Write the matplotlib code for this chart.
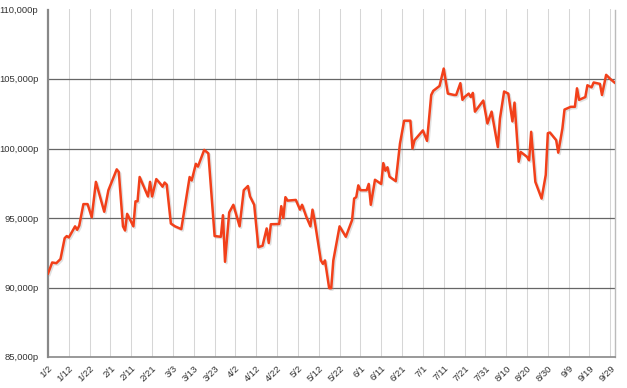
import pandas as pd
import matplotlib
matplotlib.use("Agg")
import matplotlib.pyplot as plt
import matplotlib.patheffects as pe

# price series (month-day, value)
dates = [
    "01-02", "01-04", "01-06", "01-08", "01-10", "01-11", "01-12", "01-15", "01-16", "01-17",
    "01-19", "01-21", "01-23", "01-25", "01-29", "01-31", "02-02", "02-04", "02-05", "02-07",
    "02-08", "02-09", "02-12", "02-13", "02-14", "02-15", "02-18", "02-19", "02-20", "02-21",
    "02-23", "02-25", "02-26", "02-27", "02-28", "03-02", "03-04", "03-07", "03-11", "03-12",
    "03-14", "03-15", "03-16", "03-18", "03-20", "03-23", "03-26", "03-27", "03-28", "03-30",
    "04-01", "04-04", "04-06", "04-08", "04-09", "04-11", "04-13", "04-15", "04-17", "04-18",
    "04-19", "04-22", "04-23", "04-24", "04-25", "04-26", "04-27", "05-01", "05-03", "05-04",
    "05-06", "05-08", "05-09", "05-10", "05-13", "05-14", "05-15", "05-17", "05-18", "05-19",
    "05-22", "05-25", "05-28", "05-29", "05-30", "05-31", "06-01", "06-04", "06-05", "06-06",
    "06-08", "06-11", "06-12", "06-13", "06-14", "06-15", "06-18", "06-20", "06-22", "06-25",
    "06-26", "06-27", "07-01", "07-03", "07-05", "07-06", "07-09", "07-11", "07-13", "07-16",
    "07-17", "07-19", "07-20", "07-21", "07-23", "07-24", "07-25", "07-26", "07-30", "08-01",
    "08-03", "08-06", "08-07", "08-09", "08-11", "08-13", "08-14", "08-16", "08-17", "08-20",
    "08-21", "08-22", "08-24", "08-27", "08-29", "08-30", "08-31", "09-03", "09-04", "09-06",
    "09-07", "09-10", "09-12", "09-13", "09-14", "09-17", "09-18", "09-20", "09-21", "09-24",
    "09-25", "09-27", "09-29", "10-01",
]
values = [
    91000, 91800, 91750, 92050, 93550, 93700, 93600, 94400, 94150, 94450,
    96000, 96000, 95050, 97600, 95450, 97000, 97750, 98500, 98300, 94400,
    94100, 95300, 94400, 96200, 96200, 97950, 96900, 96550, 97600, 96550,
    97800, 97450, 97250, 97550, 97400, 94600, 94400, 94200, 97950, 97700,
    98900, 98700, 99100, 99900, 99650, 93700, 93650, 95200, 91850, 95400,
    95950, 94400, 97000, 97300, 96550, 95950, 92900, 93000, 94250, 93200,
    94550, 94570, 94570, 95850, 95000, 96500, 96250, 96300, 95600, 95950,
    95100, 94400, 95600, 94850, 91950, 91700, 91950, 89950, 89950, 91950,
    94400, 93650, 94850, 96400, 96500, 97350, 97000, 97000, 97450, 95950,
    97750, 97450, 98950, 98400, 98650, 97970, 97650, 100350, 102000, 102000,
    100000, 100600, 101300, 100550, 103850, 104150, 104500, 105750, 103950, 103850,
    103850, 104700, 103500, 103700, 103950, 103700, 104000, 102650, 103450, 101800,
    102650, 100100, 102150, 104100, 103950, 101950, 103300, 99050, 99750, 99400,
    99150, 101200, 97600, 96400, 98100, 101100, 101150, 100600, 99700, 101450,
    102800, 103000, 103000, 104330, 103500, 103700, 104550, 104400, 104750, 104650,
    103850, 105300, 105000, 104750,
]
y_ticks = [85000, 90000, 95000, 100000, 105000, 110000]

x = pd.to_datetime(["2015-" + d for d in dates])
x_ticks = pd.date_range("2015-01-02", "2015-09-29", freq="10D")

plt.rcParams["font.family"] = ["Liberation Sans", "DejaVu Sans"]
fig = plt.figure(figsize=(6.27, 3.88), dpi=100)
ax = fig.add_axes([48 / 627, 1 - 357 / 388, 567 / 627, 347.5 / 388])

# grid
for t in x_ticks:
    ax.axvline(t, color="#d6d6d6", lw=0.75, zorder=1)
for v in y_ticks[1:-1]:
    ax.axhline(v, color="#666666", lw=0.9, zorder=1)

ax.plot(x, values, color="#f2401a", lw=1.8, zorder=3, solid_joinstyle="round",
        path_effects=[pe.SimpleLineShadow(offset=(1.0, -1.0), shadow_color="#999999", alpha=0.3),
                      pe.Normal()])

ax.set_ylim(85000, 110000)
ax.set_xlim(pd.Timestamp("2015-01-02"), pd.Timestamp("2015-10-01 06:00"))
ax.set_yticks(y_ticks)
ax.set_yticklabels([f"{v:,}p" for v in y_ticks])
ax.set_xticks(x_ticks)
ax.set_xticklabels([f"{t.month}/{t.day}" for t in x_ticks], rotation=45,
                   ha="right", va="top", rotation_mode="anchor")
ax.tick_params(axis="both", length=0, labelsize=6.8, colors="#333333")
ax.tick_params(axis="y", pad=7)
ax.tick_params(axis="x", pad=5)

ax.spines["top"].set_visible(False)
ax.spines["left"].set_color("#888888")
ax.spines["left"].set_linewidth(1.6)
ax.spines["bottom"].set_color("#888888")
ax.spines["bottom"].set_linewidth(1.2)
ax.spines["right"].set_color("#bbbbbb")
ax.spines["right"].set_linewidth(1.0)

fig.savefig("out.png", dpi=100)
